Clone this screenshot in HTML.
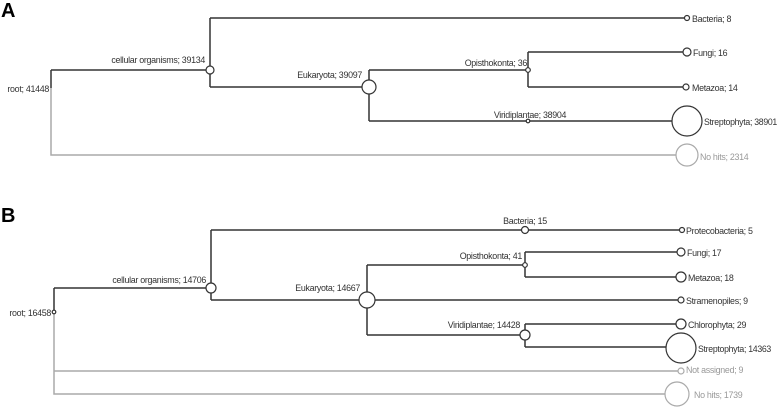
<!DOCTYPE html>
<html><head><meta charset="utf-8"><style>
html,body{margin:0;padding:0;background:#fff;}
svg{display:block;font-family:"Liberation Sans",Arial,sans-serif;}
.d{stroke:#333;stroke-width:1.5;fill:none}
.g{stroke:#aaa;stroke-width:1.5;fill:none}
.c{stroke:#333;stroke-width:1.2;fill:#fff}
.cg{stroke:#aaa;stroke-width:1.2;fill:#fff}
text{font-size:8.9px;fill:#333;letter-spacing:-0.3px}
.t{fill:#999}
</style></head><body>
<svg width="778" height="408" viewBox="0 0 778 408">
<text x="1" y="17" style="font-size:20px;font-weight:bold;fill:#000;letter-spacing:0">A</text>
<text x="1" y="222" style="font-size:20px;font-weight:bold;fill:#000;letter-spacing:0">B</text>
<!-- Panel A -->
<path class="d" d="M51 70V88M51 70H210M210 18V87M210 18H685M210 87H369M369 70V121M369 70H528M528 52V87M528 52H683M528 87H683M369 121H672"/>
<path class="g" d="M51 88V155H676"/>
<circle class="c" cx="210" cy="70" r="4"/>
<circle class="c" cx="369" cy="87" r="7"/>
<circle class="c" cx="528" cy="70" r="2.3"/>
<circle class="c" cx="528" cy="121" r="1.8"/>
<circle class="c" cx="687" cy="18" r="2.5"/>
<circle class="c" cx="687" cy="52" r="4"/>
<circle class="c" cx="686" cy="87" r="3"/>
<circle class="c" cx="687" cy="121" r="15"/>
<circle class="cg" cx="687" cy="155" r="11"/>
<text x="49" y="92" text-anchor="end">root; 41448</text>
<text x="205" y="63" text-anchor="end">cellular organisms; 39134</text>
<text x="362" y="78" text-anchor="end">Eukaryota; 39097</text>
<text x="527" y="66" text-anchor="end">Opisthokonta; 36</text>
<text x="530" y="118" text-anchor="middle">Viridiplantae; 38904</text>
<text x="692" y="22">Bacteria; 8</text>
<text x="693" y="56">Fungi; 16</text>
<text x="692" y="91">Metazoa; 14</text>
<text x="704" y="125" textLength="73" lengthAdjust="spacingAndGlyphs">Streptophyta; 38901</text>
<text x="700" y="160" class="t">No hits; 2314</text>
<!-- Panel B -->
<path class="d" d="M54 288V312M54 288H207M211 230V300M211 230H680M211 300H359M367 265V335M367 265H525M525 252V277M525 252H677M525 277H676M367 300H678M367 335H520M525 324V347M525 324H676M525 347H666"/>
<path class="g" d="M54 312V394H665M54 371H678"/>
<circle class="c" cx="211" cy="288" r="5"/>
<circle class="c" cx="367" cy="300" r="8"/>
<circle class="c" cx="525" cy="230" r="3.5"/>
<circle class="c" cx="525" cy="265" r="2.3"/>
<circle class="c" cx="525" cy="335" r="5"/>
<circle class="c" cx="54" cy="312" r="1.8"/>
<circle class="c" cx="682" cy="230" r="2.5"/>
<circle class="c" cx="681" cy="252" r="4"/>
<circle class="c" cx="681" cy="277" r="5"/>
<circle class="c" cx="681" cy="300" r="3"/>
<circle class="c" cx="681" cy="324" r="5"/>
<circle class="c" cx="681" cy="348" r="15"/>
<circle class="cg" cx="681" cy="371" r="3"/>
<circle class="cg" cx="677" cy="394" r="12"/>
<text x="51" y="316" text-anchor="end">root; 16458</text>
<text x="206" y="283" text-anchor="end">cellular organisms; 14706</text>
<text x="360" y="291" text-anchor="end">Eukaryota; 14667</text>
<text x="525" y="224" text-anchor="middle">Bacteria; 15</text>
<text x="522" y="259" text-anchor="end">Opisthokonta; 41</text>
<text x="520" y="328" text-anchor="end">Viridiplantae; 14428</text>
<text x="686" y="234">Protecobacteria; 5</text>
<text x="687" y="256">Fungi; 17</text>
<text x="688" y="281">Metazoa; 18</text>
<text x="686" y="304">Stramenopiles; 9</text>
<text x="688" y="328">Chlorophyta; 29</text>
<text x="698" y="352" textLength="73" lengthAdjust="spacingAndGlyphs">Streptophyta; 14363</text>
<text x="686" y="373" class="t">Not assigned; 9</text>
<text x="694" y="398" class="t">No hits; 1739</text>
</svg>
</body></html>
